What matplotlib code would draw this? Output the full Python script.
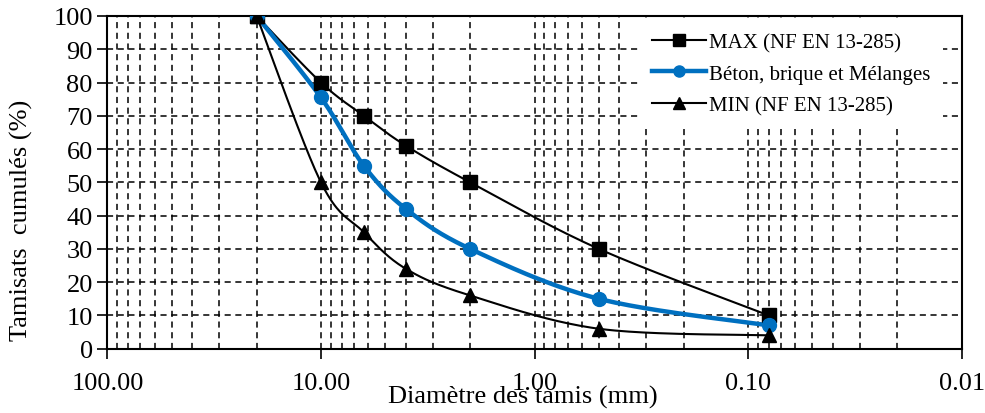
import numpy as np
import matplotlib
matplotlib.use("Agg")
import matplotlib.pyplot as plt
from matplotlib.ticker import FuncFormatter, LogLocator

plt.rcParams['font.family'] = ['Liberation Serif', 'DejaVu Serif']

# Données granulométriques
tamis = [20, 10, 6.3, 4, 2, 0.5, 0.08]
max_nf = [100, 80, 70, 61, 50, 30, 10]
beton = [100, 75.5, 55, 42, 30, 15, 7]
min_nf = [100, 50, 35, 24, 16, 6, 4]

labels = ["MAX (NF EN 13-285)", "Béton, brique et Mélanges", "MIN (NF EN 13-285)"]
bleu = "#0070C0"


def lisser(x, y, n=40):
    # courbe lissée (Catmull-Rom) dans l'espace log(x), y
    lx = np.log10(x)
    pts = np.column_stack([lx, y])
    pts = np.vstack([pts[0], pts, pts[-1]])
    res = []
    t = np.linspace(0, 1, n)
    for i in range(1, len(pts) - 2):
        p0, p1, p2, p3 = pts[i - 1], pts[i], pts[i + 1], pts[i + 2]
        c1 = p1 + (p2 - p0) / 6
        c2 = p2 - (p3 - p1) / 6
        seg = ((1 - t) ** 3)[:, None] * p1 + (3 * (1 - t) ** 2 * t)[:, None] * c1 \
            + (3 * (1 - t) * t ** 2)[:, None] * c2 + (t ** 3)[:, None] * p2
        res.append(seg)
    res = np.vstack(res)
    return 10 ** res[:, 0], res[:, 1]


fig = plt.figure(figsize=(9.85, 4.14), dpi=100)
ax = fig.add_axes([0.109, 0.1553, 0.8673, 0.8037])

series = [
    (max_nf, 'black', 1.5, 's', 10),
    (beton, bleu, 3.2, 'o', 10),
    (min_nf, 'black', 1.5, '^', 10),
]
for (vals, c, lw, m, ms), lab in zip(series, labels):
    xs, ys = lisser(tamis, vals)
    ax.plot(xs, ys, color=c, lw=lw, zorder=3)
    ax.plot(tamis, vals, linestyle='none', marker=m, ms=ms, color=c, zorder=4)
    ax.plot([], [], color=c, lw=lw, marker=m, ms=ms * 0.8, label=lab)

ax.set_xscale('log')
ax.set_xlim(100, 0.01)
ax.set_ylim(0, 100)
ax.set_yticks(np.arange(0, 101, 10))
ax.xaxis.set_major_locator(LogLocator(base=10))
ax.xaxis.set_minor_locator(LogLocator(base=10, subs=np.arange(2, 10)))
ax.xaxis.set_major_formatter(FuncFormatter(lambda v, p: f"{v:.2f}"))
ax.xaxis.set_minor_formatter(FuncFormatter(lambda v, p: ""))

ax.grid(True, which='both', axis='x', linestyle=(0, (4, 3)), color='black', lw=1.1)
ax.grid(True, which='major', axis='y', linestyle=(0, (4, 3)), color='black', lw=1.1)
ax.tick_params(axis='both', which='major', direction='out', length=7, width=1.2,
               labelsize=19, colors='black')
ax.tick_params(axis='x', which='minor', length=0)
ax.tick_params(axis='x', which='major', pad=10)
for s in ax.spines.values():
    s.set_linewidth(1.5)

ax.set_xlabel("Diamètre des tamis (mm)", fontsize=19)
ax.xaxis.set_label_coords(0.4866, -0.11)
ax.set_ylabel("Tamisats  cumulés (%)", fontsize=19)
ax.yaxis.set_label_coords(-0.087, 0.39)

leg = ax.legend(loc='upper right', bbox_to_anchor=(0.978, 0.988), fontsize=15,
                frameon=True, fancybox=False, edgecolor='none', facecolor='white',
                framealpha=1, handlelength=2.6, handletextpad=0.15,
                labelspacing=0.58, borderaxespad=0, borderpad=0.6)
leg.set_zorder(5)

fig.savefig("out.png", dpi=100)
